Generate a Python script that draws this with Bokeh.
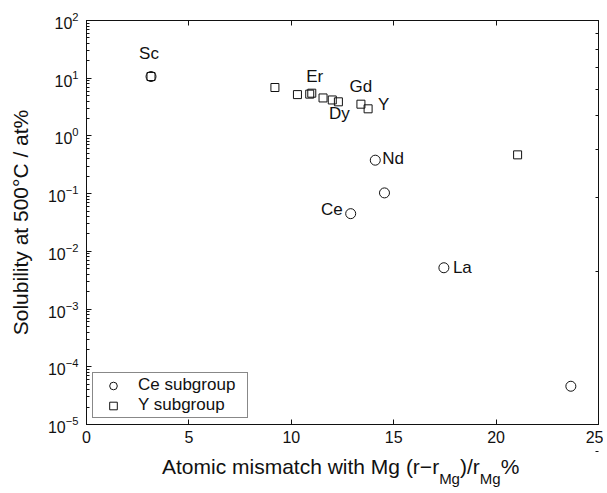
import math
from bokeh.plotting import figure
from bokeh.layouts import column
from bokeh.models import (ColumnDataSource, LinearAxis, FixedTicker, LogTicker,
                          Legend, LegendItem, Range1d, Div)
from bokeh.embed import file_html
from bokeh.resources import INLINE
from bokeh.core.properties import value, field

# ---------------- data ----------------
ce_x = [3.15, 14.1, 14.55, 12.9, 17.45, 23.65]
ce_y = [10.7, 0.38, 0.103, 0.045, 0.0052, 4.6e-5]
ce_names = ["", "Nd", "", "Ce", "La", ""]

ysub_x = [3.15, 9.2, 10.3, 10.9, 11.0, 11.55, 12.0, 12.3, 13.4, 13.75, 21.05]
ysub_y = [10.7, 6.9, 5.2, 5.3, 5.5, 4.55, 4.2, 3.9, 3.55, 2.95, 0.47]
ysub_names = ["Sc", "", "", "", "Er", "", "", "Dy", "Gd", "Y", ""]

x_ticks = [0, 5, 10, 15, 20, 25]
y_decades = [-5, -4, -3, -2, -1, 0, 1, 2]
legend_labels = ["Ce subgroup", "Y subgroup"]
y_title = "Solubility at 500°C / at%"
x_title_parts = ["Atomic mismatch with Mg (r\u2212r", "Mg", ")/r", "Mg", "%"]

# label styles: (align, x offset px, y offset px)
label_style = {
    "Sc": ("center", -2, -23), "Er": ("center", 3, -17), "Gd": ("center", 0, -18),
    "Y": ("left", 10, -4), "Dy": ("center", 1, 12), "Nd": ("left", 7, -2),
    "Ce": ("right", -8, -4), "La": ("left", 9, 0),
}

FONT = "Liberation Sans"
INK = "#111111"

p = figure(frame_width=512, frame_height=404,
           x_range=Range1d(0, 25), y_range=Range1d(1e-5, 1e2),
           y_axis_type="log", output_backend="svg", toolbar_location=None,
           min_border_left=86, min_border_top=20, min_border_right=5, min_border_bottom=30)
p.grid.visible = False
p.outline_line_color = INK
p.outline_line_width = 1
p.background_fill_color = "white"
p.border_fill_color = "white"

xa = p.xaxis[0]
xa.ticker = FixedTicker(ticks=x_ticks)
ya = p.yaxis[0]
ya.ticker = LogTicker(num_minor_ticks=10)

for ax in (xa, ya):
    ax.axis_line_color = INK
    ax.major_tick_line_color = INK
    ax.minor_tick_line_color = INK
    ax.major_tick_in = 5
    ax.major_tick_out = 0
    ax.minor_tick_in = 3
    ax.minor_tick_out = 0
    ax.major_label_text_font = FONT
    ax.major_label_text_font_size = "16px"
    ax.major_label_text_color = INK
xa.minor_tick_line_color = None
xa.major_label_standoff = 6
ya.major_label_standoff = 8
ya.axis_label = y_title
ya.axis_label_text_font = FONT
ya.axis_label_text_font_size = "21px"
ya.axis_label_text_font_style = "normal"
ya.axis_label_text_color = INK
ya.axis_label_standoff = 13

# mirrored axes (ticks only)
p.extra_y_ranges = {"logr": Range1d(y_decades[0], y_decades[-1])}
minor_log = [d + math.log10(k) for d in y_decades[:-1] for k in range(2, 10)]
top = LinearAxis(ticker=FixedTicker(ticks=x_ticks),
                 major_label_overrides={t: "" for t in x_ticks})
right = LinearAxis(y_range_name="logr",
                   ticker=FixedTicker(ticks=y_decades, minor_ticks=minor_log),
                   major_label_overrides={t: "" for t in y_decades})
for ax in (top, right):
    ax.axis_line_color = INK
    ax.major_tick_line_color = INK
    ax.minor_tick_line_color = INK
    ax.major_tick_in = 5
    ax.major_tick_out = 0
    ax.minor_tick_in = 3
    ax.minor_tick_out = 0
    ax.major_label_standoff = 0
    ax.major_label_text_font_size = "1px"
top.minor_tick_line_color = None
p.add_layout(top, "above")
p.add_layout(right, "right")

# data markers
src_ce = ColumnDataSource(dict(x=ce_x, y=ce_y))
src_y = ColumnDataSource(dict(x=ysub_x, y=ysub_y))
r_ce = p.scatter("x", "y", source=src_ce, marker="circle", size=10,
                 fill_color=None, line_color=INK, line_width=1)
r_y = p.scatter("x", "y", source=src_y, marker="square", size=8,
                fill_color=None, line_color=INK, line_width=1)

# element labels
lx, ly, lt, la, lxo, lyo = [], [], [], [], [], []
for xs, ys, ns in ((ce_x, ce_y, ce_names), (ysub_x, ysub_y, ysub_names)):
    for xv, yv, nm in zip(xs, ys, ns):
        if nm:
            a, xo, yo = label_style[nm]
            lx.append(xv); ly.append(yv); lt.append(nm)
            la.append(a); lxo.append(xo); lyo.append(yo)
lab_src = ColumnDataSource(dict(x=lx, y=ly, text=lt, align=la, xo=lxo, yo=lyo))
p.text(x="x", y="y", text="text", source=lab_src, text_align=field("align"),
       x_offset=field("xo"), y_offset=field("yo"), text_baseline="middle",
       text_font=value(FONT), text_font_size="17px", text_color=INK)

# legend
legend = Legend(items=[LegendItem(label=legend_labels[0], renderers=[r_ce]),
                       LegendItem(label=legend_labels[1], renderers=[r_y])],
                location="bottom_left", margin=6, padding=2, spacing=0,
                glyph_width=36, glyph_height=19, label_height=19, label_width=107,
                label_standoff=7, border_line_color=INK, border_line_width=1,
                background_fill_color="white", background_fill_alpha=1,
                label_text_font=FONT, label_text_font_size="17px", label_text_color=INK)
p.add_layout(legend)

# x axis title with subscripts as HTML below the figure
sub_css = "font-size:15px;position:relative;top:10px;"
x_html = (f"{x_title_parts[0]}<span style='{sub_css}'>{x_title_parts[1]}</span>"
          f"{x_title_parts[2]}<span style='{sub_css}'>{x_title_parts[3]}</span>"
          f"{x_title_parts[4]}")
xdiv = Div(text=x_html, width=440, height=38, margin=(0, 0, 0, 162),
           styles={"font-family": FONT, "font-size": "21px", "color": INK,
                   "line-height": "21px", "white-space": "nowrap",
                   "padding-top": "2px"})

layout = column(p, xdiv, spacing=0)
open("out.html", "w").write(file_html(layout, INLINE))
